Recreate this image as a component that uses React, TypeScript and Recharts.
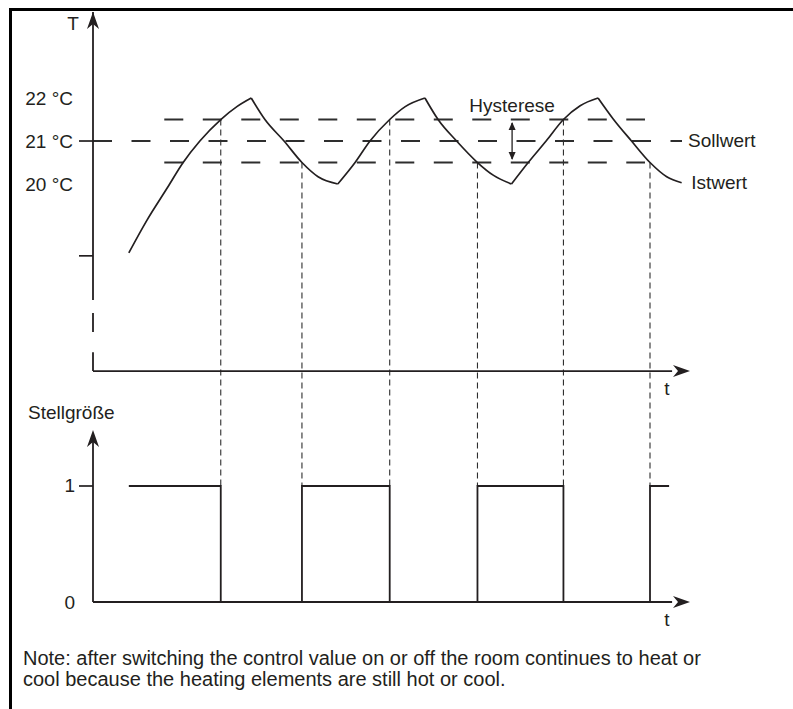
import {
  ComposedChart,
  Line,
  ReferenceDot,
  ReferenceLine,
  XAxis,
  YAxis,
} from "recharts";

// Istwert, split at every peak and trough: [time, °C]
const rise1 = [
  [6.0, 18.4], [9.0, 19.15], [12.4, 19.9], [15.1, 20.5],
  [17.9, 21.0], [21.4, 21.5], [24.1, 21.8], [26.5, 22.0],
];
const fall1 = [[26.5, 22.0], [28.8, 21.5], [32.0, 21.0], [35.0, 20.5], [37.7, 20.17], [41.0, 20.0]];
const rise2 = [[41.0, 20.0], [43.9, 20.5], [46.4, 21.0], [49.7, 21.5], [52.3, 21.8], [55.6, 22.0]];
const fall2 = [[55.6, 22.0], [57.8, 21.5], [60.9, 21.0], [64.4, 20.5], [67.1, 20.2], [70.1, 20.0]];
const rise3 = [[70.1, 20.0], [72.9, 20.5], [75.9, 21.0], [78.8, 21.5], [81.6, 21.82], [84.6, 22.0]];
const fall3 = [[84.6, 22.0], [87.2, 21.5], [90.2, 21.0], [93.3, 20.5], [96.1, 20.17], [98.6, 20.03]];

// switching moments
const switchOff = [21.4, 49.7, 78.8];
const switchOn = [35.0, 64.4, 93.3];

// Stellgröße
const stellTimes = [6.0, 21.4, 35.0, 49.7, 64.4, 78.8, 93.3, 96.5];
const stellValues = [1, 0, 1, 0, 1, 0, 1, 1];

const sollwert = 21;
const hystUpper = 21.5;
const hystLower = 20.5;

const tempTicks = [22, 21, 20, 18.33];
const tempTickLabels = ["22 °C", "21 °C", "20 °C", ""];
const tempTickMarks = [21, 18.33];
const stellTicks = [1, 0];
const stellTickLabels = ["1", "0"];
const stellTickMarks = [1];

const INK = "#231f20";
const DASH = "#2e2e2e";
const FONT = '"Liberation Sans", Arial, Helvetica, sans-serif';
const T_DOMAIN: [number, number] = [10.28, 24];
const S_DOMAIN: [number, number] = [0, 5.086];
const T_AXIS = 15.65; // upper time axis
const T_BREAKS = [[15.65, 16.09], [16.56, 17.0], [17.3, 24]];
const S_TOP = 1.483;

// level of the lower panel expressed on the temperature axis
const sToT = (s: number) =>
  T_DOMAIN[0] + (s / S_DOMAIN[1]) * (T_DOMAIN[1] - T_DOMAIN[0]);

const arrow =
  (dir: "up" | "down" | "right", len = 17, half = 6, notch = 5) =>
  (p: any) => {
    const { cx, cy } = p;
    let d = "";
    if (dir === "right")
      d = `M${cx},${cy} L${cx - len},${cy - half} L${cx - len + notch},${cy} L${cx - len},${cy + half} Z`;
    if (dir === "up")
      d = `M${cx},${cy} L${cx - half},${cy + len} L${cx},${cy + len - notch} L${cx + half},${cy + len} Z`;
    if (dir === "down")
      d = `M${cx},${cy} L${cx - half},${cy - len} L${cx},${cy - len + notch} L${cx + half},${cy - len} Z`;
    return <path d={d} fill={INK} />;
  };

const label =
  (value: string, dx: number, dy: number, anchor: "start" | "middle" | "end" = "start") =>
  (p: any) => (
    <text
      x={p.cx + dx}
      y={p.cy + dy}
      textAnchor={anchor}
      fontSize={19}
      fontFamily={FONT}
      fill={INK}
    >
      {value}
    </text>
  );

// tick label (and optional tick mark) left of the value axis
const tick = (text: string, mark: boolean, textEnd: number) => (p: any) => (
  <g>
    {mark && (
      <line x1={p.cx - 14} y1={p.cy} x2={p.cx} y2={p.cy} stroke={INK} strokeWidth={1.7} />
    )}
    <text
      x={p.cx - textEnd}
      y={p.cy + 6.5}
      textAnchor="end"
      fontSize={19}
      fontFamily={FONT}
      fill={INK}
    >
      {text}
    </text>
  </g>
);

export default function App() {
  const segments = [rise1, fall1, rise2, fall2, rise3, fall3].map((pts) =>
    pts.map(([t, temp]) => ({ t, temp }))
  );
  const stellData = stellTimes.map((t, i) => ({ t, s: stellValues[i] }));

  return (
    <div
      style={{
        position: "fixed",
        left: 0,
        top: 0,
        width: 793,
        height: 709,
        overflow: "hidden",
        background: "#fff",
        fontFamily: FONT,
        color: INK,
      }}
    >
      <div
        style={{
          position: "absolute",
          left: 9,
          top: 8,
          right: 0,
          bottom: 0,
          borderTop: "3px solid #000",
          borderLeft: "3px solid #000",
        }}
      />
      <div style={{ position: "absolute", left: 0, top: 0 }}>
        <ComposedChart
          width={793}
          height={709}
          margin={{ top: 12, right: 103, bottom: 107, left: 93 }}
        >
          <XAxis type="number" dataKey="t" domain={[0, 100]} hide allowDataOverflow />
          <YAxis yAxisId="T" type="number" domain={T_DOMAIN} allowDataOverflow hide width={0} />
          <YAxis yAxisId="S" type="number" domain={S_DOMAIN} allowDataOverflow hide width={0} />

          {/* hysteresis band and set point */}
          <ReferenceLine yAxisId="T" segment={[{ x: 11.94, y: hystUpper }, { x: 92.46, y: hystUpper }]} stroke={DASH} strokeWidth={1.8} strokeDasharray="19 19.5" />
          <ReferenceLine yAxisId="T" segment={[{ x: 11.94, y: hystLower }, { x: 92.46, y: hystLower }]} stroke={DASH} strokeWidth={1.8} strokeDasharray="19 19.5" />
          <ReferenceLine yAxisId="T" segment={[{ x: 0, y: sollwert }, { x: 98.66, y: sollwert }]} stroke={DASH} strokeWidth={1.8} strokeDasharray="19 19.5" />

          {/* switching moments */}
          {switchOff.map((t) => (
            <ReferenceLine key={`off${t}`} yAxisId="T" segment={[{ x: t, y: hystUpper }, { x: t, y: sToT(1) }]} stroke={DASH} strokeWidth={1.1} strokeDasharray="6 4" />
          ))}
          {switchOn.map((t) => (
            <ReferenceLine key={`on${t}`} yAxisId="T" segment={[{ x: t, y: hystLower }, { x: t, y: sToT(1) }]} stroke={DASH} strokeWidth={1.1} strokeDasharray="6 4" />
          ))}

          {/* axes of the upper panel */}
          {T_BREAKS.map(([a, b]) => (
            <ReferenceLine key={`yb${a}`} yAxisId="T" segment={[{ x: 0, y: a }, { x: 0, y: b }]} stroke={INK} strokeWidth={1.8} />
          ))}
          <ReferenceLine yAxisId="T" segment={[{ x: 0, y: T_AXIS }, { x: 97, y: T_AXIS }]} stroke={INK} strokeWidth={1.8} />
          <ReferenceDot yAxisId="T" x={0} y={T_DOMAIN[1]} r={0} shape={arrow("up")} />
          <ReferenceDot yAxisId="T" x={100} y={T_AXIS} r={0} shape={arrow("right")} />
          {tempTicks.map((v, i) => (
            <ReferenceDot key={`tt${v}`} yAxisId="T" x={0} y={v} r={0} shape={tick(tempTickLabels[i], tempTickMarks.includes(v), 20)} />
          ))}

          {/* axes of the lower panel */}
          <ReferenceLine yAxisId="S" segment={[{ x: 0, y: 0 }, { x: 0, y: S_TOP - 0.1 }]} stroke={INK} strokeWidth={1.8} />
          <ReferenceLine yAxisId="S" segment={[{ x: 0, y: 0 }, { x: 97, y: 0 }]} stroke={INK} strokeWidth={1.8} />
          <ReferenceDot yAxisId="S" x={0} y={S_TOP} r={0} shape={arrow("up")} />
          <ReferenceDot yAxisId="S" x={100} y={0} r={0} shape={arrow("right")} />
          {stellTicks.map((v, i) => (
            <ReferenceDot key={`st${v}`} yAxisId="S" x={0} y={v} r={0} shape={tick(stellTickLabels[i], stellTickMarks.includes(v), 18)} />
          ))}

          {/* hysteresis arrow */}
          <ReferenceLine yAxisId="T" segment={[{ x: 70.2, y: 21.42 }, { x: 70.2, y: 20.58 }]} stroke={INK} strokeWidth={1.3} />
          <ReferenceDot yAxisId="T" x={70.2} y={21.44} r={0} shape={arrow("up", 8, 3.5, 0)} />
          <ReferenceDot yAxisId="T" x={70.2} y={20.56} r={0} shape={arrow("down", 8, 3.5, 0)} />

          {segments.map((data, i) => (
            <Line
              key={i}
              yAxisId="T"
              data={data}
              dataKey="temp"
              type="monotone"
              stroke={INK}
              strokeWidth={1.7}
              dot={false}
              activeDot={false}
              isAnimationActive={false}
            />
          ))}
          <Line
            yAxisId="S"
            data={stellData}
            dataKey="s"
            type="stepAfter"
            stroke={INK}
            strokeWidth={1.8}
            dot={false}
            activeDot={false}
            isAnimationActive={false}
          />

          {/* labels */}
          <ReferenceDot yAxisId="T" x={0} y={T_DOMAIN[1]} r={0} shape={label("T", -20, 18, "middle")} />
          <ReferenceDot yAxisId="T" x={100} y={T_AXIS} r={0} shape={label("t", -23, 24, "middle")} />
          <ReferenceDot yAxisId="S" x={100} y={0} r={0} shape={label("t", -23, 24, "middle")} />
          <ReferenceDot yAxisId="S" x={0} y={S_TOP} r={0} shape={label("Stellgröße", -65, -11)} />
          <ReferenceDot yAxisId="T" x={70.2} y={hystUpper} r={0} shape={label("Hysterese", 0, -7.5, "middle")} />
          <ReferenceDot yAxisId="T" x={98.66} y={sollwert} r={0} shape={label("Sollwert", 6, 6)} />
          <ReferenceDot yAxisId="T" x={98.6} y={20.03} r={0} shape={label("Istwert", 9.5, 6.5)} />
        </ComposedChart>
      </div>
      <div
        style={{
          position: "absolute",
          left: 23,
          top: 648,
          fontSize: 20,
          lineHeight: "21px",
          whiteSpace: "nowrap",
        }}
      >
        Note: after switching the control value on or off the room continues to heat or
        <br />
        cool because the heating elements are still hot or cool.
      </div>
    </div>
  );
}
